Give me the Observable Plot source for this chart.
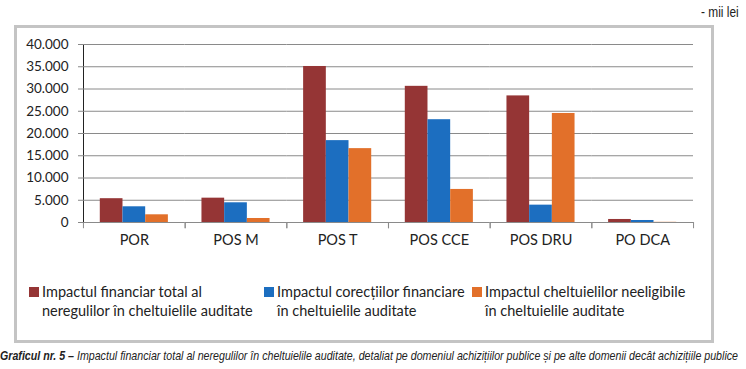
<!DOCTYPE html>
<html>
<head>
<meta charset="utf-8">
<script src="https://cdn.jsdelivr.net/npm/d3@7"></script>
<script src="https://cdn.jsdelivr.net/npm/@observablehq/plot@0.6"></script>
<style>
  html, body { margin: 0; padding: 0; background: #fff; }
  #wrap { position: relative; width: 746px; height: 369px; overflow: hidden; font-family: Lato, "Open Sans", sans-serif; color: #222; }
  #frame { position: absolute; left: 14px; top: 25px; width: 694px; height: 312px; border: 3px solid #c4c4c4; }
  #chart { position: absolute; left: 0; top: 0; }
  #unit { position: absolute; left: 701px; top: 4px; font-family: "Liberation Sans", Arial, sans-serif; font-size: 14.5px; color: #222; white-space: nowrap; transform-origin: left top; transform: scaleX(0.82); }
  .leg { position: absolute; font-size: 14.5px; line-height: 19px; color: #222; white-space: nowrap; }
  .sw { position: absolute; width: 10px; height: 10px; }
  #caption { position: absolute; left: 0; top: 348px; font-family: "Liberation Sans", Arial, sans-serif; font-style: italic; font-size: 13.5px; white-space: nowrap; color: #222; transform-origin: left top; }
  #chart svg [aria-label^="y-axis"] path, #chart svg [aria-label^="y-axis"] line { stroke: #888; }
  #chart svg [aria-label^="fx-axis"] text { font-size: 14.5px; }
</style>
</head>
<body>
<div id="wrap">
  <div id="unit">- mii lei</div>
  <div id="frame"></div>
  <div id="chart"></div>
  <div id="legend"></div>
  <div id="caption"><b>Graficul nr. 5 –</b> Impactul financiar total al neregulilor în cheltuielile auditate, detaliat pe domeniul achizițiilor publice și pe alte domenii decât achizițiile publice</div>
</div>
<script>
const categories = ["POR", "POS M", "POS T", "POS CCE", "POS DRU", "PO DCA"];
const seriesNames = [
  "Impactul financiar total al neregulilor în cheltuielile auditate",
  "Impactul corecțiilor financiare în cheltuielile auditate",
  "Impactul cheltuielilor neeligibile în cheltuielile auditate"
];
const legendLines = [
  ["Impactul financiar total al", "neregulilor în cheltuielile auditate"],
  ["Impactul corecțiilor financiare", "în cheltuielile auditate"],
  ["Impactul cheltuielilor neeligibile", "în cheltuielile auditate"]
];
const impactTotal = [5350, 5470, 35060, 30600, 28450, 680];
const impactCorectii = [3530, 4430, 18400, 23100, 3900, 450];
const impactNeeligibile = [1730, 900, 16600, 7430, 24500, 40];
const yTicks = [0, 5000, 10000, 15000, 20000, 25000, 30000, 35000, 40000];
const colors = ["#953535", "#1c6ec0", "#e2702a"];

const seriesValues = [impactTotal, impactCorectii, impactNeeligibile];
const data = [];
categories.forEach((c, i) => {
  seriesNames.forEach((s, j) => data.push({cat: c, series: s, value: seriesValues[j][i]}));
});

const fmt = d3.formatLocale({decimal: ",", thousands: ".", grouping: [3], currency: ["", ""]}).format(",");

const plot = Plot.plot({
  width: 746,
  height: 260,
  marginLeft: 83,
  marginRight: 53,
  marginTop: 44,
  marginBottom: 38,
  style: {fontFamily: "Lato, 'Open Sans', sans-serif", fontSize: "13.5px", color: "#222", background: "transparent"},
  facet: {data: data, x: "cat"},
  fx: {domain: categories, padding: 0, round: false, axis: "bottom", tickSize: 0, tickPadding: 12, label: null},
  x: {domain: seriesNames, paddingInner: 0, paddingOuter: 0.74, round: false, axis: null},
  y: {domain: [0, 40000], ticks: yTicks, tickFormat: fmt, tickSize: 5, tickPadding: 10, label: null, line: true},
  color: {domain: seriesNames, range: colors},
  marks: [
    Plot.ruleY(yTicks, {stroke: "#8a8a8a", strokeWidth: 1}),
    Plot.ruleX([seriesNames[0]], {x: d => d, y1: 0, y2: -1400, stroke: "#8a8a8a", dx: -28.2}),
    Plot.ruleX([seriesNames[2]], {x: d => d, y1: 0, y2: -1400, stroke: "#8a8a8a", dx: 28.2}),
    Plot.barY(data, {x: "series", y: "value", fill: "series"})
  ]
});
document.getElementById("chart").appendChild(plot);

const legendX = [[29, 42], [264, 277], [472, 485]];
const legend = document.getElementById("legend");
legendLines.forEach((lines, i) => {
  const sw = document.createElement("div");
  sw.className = "sw";
  sw.style.left = legendX[i][0] + "px";
  sw.style.top = "287px";
  sw.style.background = colors[i];
  legend.appendChild(sw);
  const t = document.createElement("div");
  t.className = "leg";
  t.style.left = legendX[i][1] + "px";
  t.style.top = "282px";
  t.innerHTML = lines.join("<br>");
  legend.appendChild(t);
});

const cap = document.getElementById("caption");
const w = cap.getBoundingClientRect().width;
cap.style.transform = "scaleX(" + (738 / w) + ")";
</script>
</body>
</html>
